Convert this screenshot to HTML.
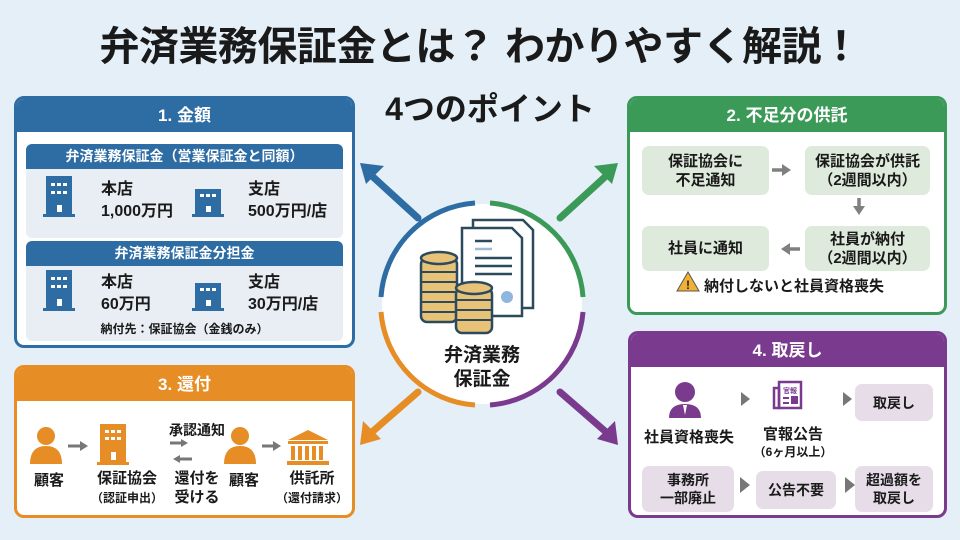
<!DOCTYPE html>
<html><head><meta charset="utf-8"><style>
*{margin:0;padding:0;box-sizing:border-box}
body{width:960px;height:540px;background:#e4eff7;font-family:"Liberation Sans","Noto Sans CJK JP",sans-serif;font-weight:bold;color:#1a1a1a;position:relative;overflow:hidden}
.a{position:absolute}
.c{text-align:center}
.panel{position:absolute;background:#fff;border:3px solid;border-radius:10px;overflow:hidden}
.hd{color:#fff;text-align:center;font-size:17px;height:33px;line-height:33px}
.box{position:absolute;border-radius:7px;display:flex;align-items:center;justify-content:center;text-align:center;font-size:14px;line-height:18px}
.g{background:#deeadb;font-size:15px;line-height:19px}
.p{background:#e6dde8}
</style></head><body>
<div class="a c" style="left:0;top:22px;width:960px;font-size:40px;line-height:50px;letter-spacing:-0.5px">弁済業務保証金とは？ わかりやすく解説！</div>
<div class="a c" style="left:375px;top:89px;width:230px;font-size:32px;line-height:40px">4つのポイント</div>

<!-- Panel 1 -->
<div class="panel" style="left:14px;top:96px;width:341px;height:252px;border-color:#2e6ca4">
 <div class="hd" style="background:#2e6ca4">1. 金額</div>
 <div class="a" style="left:9px;top:45px;width:317px;height:94px;background:#e8eef4;border-radius:6px;overflow:hidden">
  <div style="background:#2e6ca4;color:#fff;text-align:center;font-size:14px;height:25px;line-height:25px">弁済業務保証金（営業保証金と同額）</div>
 </div>
 <div class="a" style="left:9px;top:142px;width:317px;height:100px;background:#e8eef4;border-radius:6px;overflow:hidden">
  <div style="background:#2e6ca4;color:#fff;text-align:center;font-size:14px;height:25px;line-height:25px">弁済業務保証金分担金</div>
 </div>
 <div class="a" style="left:84px;top:80px;font-size:16px;line-height:22px">本店<br>1,000万円</div>
 <div class="a" style="left:231px;top:80px;font-size:16px;line-height:22px">支店<br>500万円/店</div>
 <div class="a" style="left:84px;top:173px;font-size:16px;line-height:22px">本店<br>60万円</div>
 <div class="a" style="left:231px;top:173px;font-size:16px;line-height:22px">支店<br>30万円/店</div>
 <div class="a c" style="left:0;top:221px;width:335px;font-size:12px">納付先：保証協会（金銭のみ）</div>
</div>
<!-- Panel 2 -->
<div class="panel" style="left:627px;top:96px;width:320px;height:219px;border-color:#3c9a58">
 <div class="hd" style="background:#3c9a58">2. 不足分の供託</div>
 <div class="box g" style="left:12px;top:47px;width:127px;height:49px">保証協会に<br>不足通知</div>
 <div class="box g" style="left:175px;top:47px;width:125px;height:49px">保証協会が供託<br>（2週間以内）</div>
 <div class="box g" style="left:12px;top:127px;width:127px;height:45px">社員に通知</div>
 <div class="box g" style="left:175px;top:127px;width:125px;height:45px">社員が納付<br>（2週間以内）</div>
</div>
<!-- Panel 3 -->
<div class="panel" style="left:14px;top:365px;width:341px;height:153px;border-color:#e68d26">
 <div class="hd" style="background:#e68d26">3. 還付</div>
 <div class="a c" style="left:12px;top:101px;width:40px;font-size:15px">顧客</div>
 <div class="a c" style="left:65px;top:101px;width:90px;font-size:15px;line-height:19px">保証協会<br><span style="font-size:12px">（認証申出）</span></div>
 <div class="a c" style="left:140px;top:52px;width:80px;font-size:14px">承認通知</div>
 <div class="a c" style="left:150px;top:101px;width:60px;font-size:15px;line-height:19px">還付を<br>受ける</div>
 <div class="a c" style="left:207px;top:101px;width:40px;font-size:15px">顧客</div>
 <div class="a c" style="left:255px;top:101px;width:80px;font-size:15px;line-height:19px">供託所<br><span style="font-size:12px">（還付請求）</span></div>
</div>
<!-- Panel 4 -->
<div class="panel" style="left:628px;top:331px;width:319px;height:187px;border-color:#7a3b8f">
 <div class="hd" style="background:#7a3b8f">4. 取戻し</div>
 <div class="a c" style="left:4px;top:92px;width:108px;font-size:15px">社員資格喪失</div>
 <div class="a c" style="left:120px;top:92px;width:84px;font-size:15px;line-height:17px">官報公告<br><span style="font-size:12px">（6ヶ月以上）</span></div>
 <div class="box p" style="left:224px;top:50px;width:78px;height:37px">取戻し</div>
 <div class="box p" style="left:11px;top:132px;width:92px;height:46px">事務所<br>一部廃止</div>
 <div class="box p" style="left:125px;top:137px;width:80px;height:38px">公告不要</div>
 <div class="box p" style="left:224px;top:132px;width:78px;height:46px">超過額を<br>取戻し</div>
</div>

<svg class="a" style="left:0;top:0" width="960" height="540" viewBox="0 0 960 540">
 <g fill="#2e6ca4">
  <rect x="46" y="176" width="26" height="40"/><rect x="43" y="214" width="32" height="3"/>
  <rect x="195" y="189" width="26" height="28"/><rect x="192" y="214" width="32" height="3"/>
  <rect x="46" y="270" width="26" height="40"/><rect x="43" y="308" width="32" height="3"/>
  <rect x="195" y="283" width="26" height="28"/><rect x="192" y="308" width="32" height="3"/>
 </g>
 <g fill="#fff">
  <rect x="51" y="183" width="4" height="3"/><rect x="57" y="183" width="4" height="3"/><rect x="63" y="183" width="4" height="3"/>
  <rect x="51" y="191" width="4" height="3"/><rect x="57" y="191" width="4" height="3"/><rect x="63" y="191" width="4" height="3"/>
  <rect x="57" y="205" width="5" height="7"/>
  <rect x="200" y="194" width="4" height="3"/><rect x="206" y="194" width="4" height="3"/><rect x="212" y="194" width="4" height="3"/>
  <rect x="206" y="206" width="5" height="6"/>
  <rect x="51" y="277" width="4" height="3"/><rect x="57" y="277" width="4" height="3"/><rect x="63" y="277" width="4" height="3"/>
  <rect x="51" y="285" width="4" height="3"/><rect x="57" y="285" width="4" height="3"/><rect x="63" y="285" width="4" height="3"/>
  <rect x="57" y="299" width="5" height="7"/>
  <rect x="200" y="288" width="4" height="3"/><rect x="206" y="288" width="4" height="3"/><rect x="212" y="288" width="4" height="3"/>
  <rect x="206" y="300" width="5" height="6"/>
 </g>
 <!-- panel2 arrows & warning -->
 <g fill="#808080" stroke="#808080" stroke-width="3.5">
  <line x1="772" y1="170" x2="784" y2="170"/><path d="M782 164 l9 6 l-9 6z" stroke="none"/>
  <line x1="859" y1="198" x2="859" y2="208"/><path d="M853 206 l6 9 l6 -9z" stroke="none"/>
  <line x1="788" y1="249" x2="800" y2="249"/><path d="M790 243 l-9 6 l9 6z" stroke="none"/>
 </g>
 <path d="M677 291 l11 -19 l11 19z" fill="#f2b134" stroke="#555" stroke-width="1"/>
 <text x="688" y="289" font-size="12" text-anchor="middle" fill="#222" font-weight="bold" font-family="Liberation Sans, sans-serif">!</text>
 <text x="704" y="291" font-size="15" fill="#1a1a1a" font-weight="bold" font-family="Liberation Sans, Noto Sans CJK JP, sans-serif">納付しないと社員資格喪失</text>
 <!-- panel3 icons -->
 <g fill="#e68d26">
  <circle cx="46" cy="436" r="9"/><path d="M30 464 q0 -18 16 -18 q16 0 16 18z"/>
  <circle cx="240" cy="436" r="9"/><path d="M224 464 q0 -18 16 -18 q16 0 16 18z"/>
  <rect x="100" y="424" width="26" height="40"/><rect x="97" y="462" width="32" height="3"/>
  <path d="M288 440 l20 -10 l20 10z"/><rect x="288" y="441" width="40" height="3"/>
  <rect x="291" y="446" width="4" height="14"/><rect x="298" y="446" width="4" height="14"/><rect x="305" y="446" width="4" height="14"/><rect x="312" y="446" width="4" height="14"/><rect x="319" y="446" width="4" height="14"/>
  <rect x="287" y="461" width="42" height="4"/>
 </g>
 <g fill="#fff"><rect x="105" y="430" width="4" height="3"/><rect x="111" y="430" width="4" height="3"/><rect x="117" y="430" width="4" height="3"/><rect x="105" y="437" width="4" height="3"/><rect x="111" y="437" width="4" height="3"/><rect x="117" y="437" width="4" height="3"/><rect x="111" y="452" width="5" height="8"/></g>
 <g stroke="#777" stroke-width="3" fill="#777">
  <line x1="68" y1="446" x2="82" y2="446"/><path d="M80 441 l8 5 l-8 5z" stroke="none"/>
  <line x1="170" y1="443" x2="183" y2="443"/><path d="M181 439 l7 4 l-7 4z" stroke="none"/>
  <line x1="178" y1="459" x2="192" y2="459"/><path d="M180 455 l-7 4 l7 4z" stroke="none"/>
  <line x1="262" y1="446" x2="275" y2="446"/><path d="M273 441 l8 5 l-8 5z" stroke="none"/>
 </g>
 <!-- panel4 icons -->
 <g fill="#7a3b8f">
  <circle cx="685" cy="392" r="10"/><path d="M669 418 q0 -14 16 -14 q16 0 16 14z"/>
 </g>
 <path d="M683 405 l2 10 l2 -10z" fill="#fff"/>
 <g fill="none" stroke="#7a3b8f" stroke-width="2.5"><rect x="779" y="382" width="22" height="26"/><rect x="774" y="388" width="5" height="20"/></g>
 <g fill="#7a3b8f"><rect x="783" y="397" width="6" height="2"/><rect x="783" y="402" width="6" height="2"/><rect x="791" y="396" width="7" height="8"/></g>
 <text x="790" y="393" font-size="7" text-anchor="middle" fill="#7a3b8f">官報</text>
 <g fill="#777"><path d="M741 392 l9 7 l-9 7z"/><path d="M843 392 l9 7 l-9 7z"/><path d="M740 477 l10 8 l-10 8z"/><path d="M845 477 l10 8 l-10 8z"/></g>

 <!-- center circle -->
 <circle cx="482" cy="304" r="100" fill="#fff"/>
 <g fill="none" stroke-width="5">
  <path d="M381 297 A101 101 0 0 1 475 203" stroke="#2e6ca4"/>
  <path d="M490 203 A101 101 0 0 1 583 297" stroke="#3c9a58"/>
  <path d="M583 312 A101 101 0 0 1 490 405" stroke="#7a3b8f"/>
  <path d="M475 405 A101 101 0 0 1 381 312" stroke="#e68d26"/>
 </g>
 <g stroke-width="7" stroke-linecap="round">
  <line x1="418" y1="218" x2="372" y2="176" stroke="#2e6ca4"/>
  <line x1="560" y1="218" x2="606" y2="176" stroke="#3c9a58"/>
  <line x1="418" y1="392" x2="372" y2="432" stroke="#e68d26"/>
  <line x1="560" y1="392" x2="606" y2="432" stroke="#7a3b8f"/>
 </g>
 <path d="M360 163 l24 3 l-18 18z" fill="#2e6ca4"/>
 <path d="M618 163 l-24 3 l18 18z" fill="#3c9a58"/>
 <path d="M360 445 l3 -24 l18 18z" fill="#e68d26"/>
 <path d="M618 445 l-3 -24 l-18 18z" fill="#7a3b8f"/>
 <g stroke="#2c4a5e" stroke-width="2.5" fill="#fff">
  <path d="M473 220 h50 l10 10 v78 h-60z"/>
  <path d="M462 228 h50 l10 10 v78 h-60z"/>
 </g>
 <g stroke="#2c4a5e" stroke-width="2.5"><line x1="475" y1="241" x2="492" y2="241"/><line x1="475" y1="258" x2="512" y2="258"/><line x1="475" y1="266" x2="512" y2="266"/><line x1="475" y1="274" x2="512" y2="274"/></g>
 <line x1="475" y1="249" x2="492" y2="249" stroke="#9bbbd6" stroke-width="2.5"/>
 <circle cx="507" cy="297" r="6" fill="#8fb6dc"/>
 <g stroke="#2c4a5e" stroke-width="2.5" fill="#e8c277">
  <rect x="421" y="258" width="36" height="64" rx="6"/>
  <ellipse cx="439" cy="258" rx="18" ry="6"/>
  <rect x="456" y="288" width="36" height="45" rx="6"/>
  <ellipse cx="474" cy="288" rx="18" ry="6"/>
 </g>
 <g stroke="#2c4a5e" stroke-width="2"><line x1="421" y1="272" x2="457" y2="272"/><line x1="421" y1="282" x2="457" y2="282"/><line x1="421" y1="292" x2="457" y2="292"/><line x1="421" y1="302" x2="457" y2="302"/><line x1="421" y1="312" x2="457" y2="312"/>
 <line x1="456" y1="300" x2="492" y2="300"/><line x1="456" y1="310" x2="492" y2="310"/><line x1="456" y1="320" x2="492" y2="320"/></g>
 <text x="482" y="361" font-size="19" text-anchor="middle" font-weight="bold" fill="#1a1a1a" font-family="Liberation Sans, Noto Sans CJK JP, sans-serif">弁済業務</text>
 <text x="482" y="385" font-size="19" text-anchor="middle" font-weight="bold" fill="#1a1a1a" font-family="Liberation Sans, Noto Sans CJK JP, sans-serif">保証金</text>
</svg>
</body></html>
